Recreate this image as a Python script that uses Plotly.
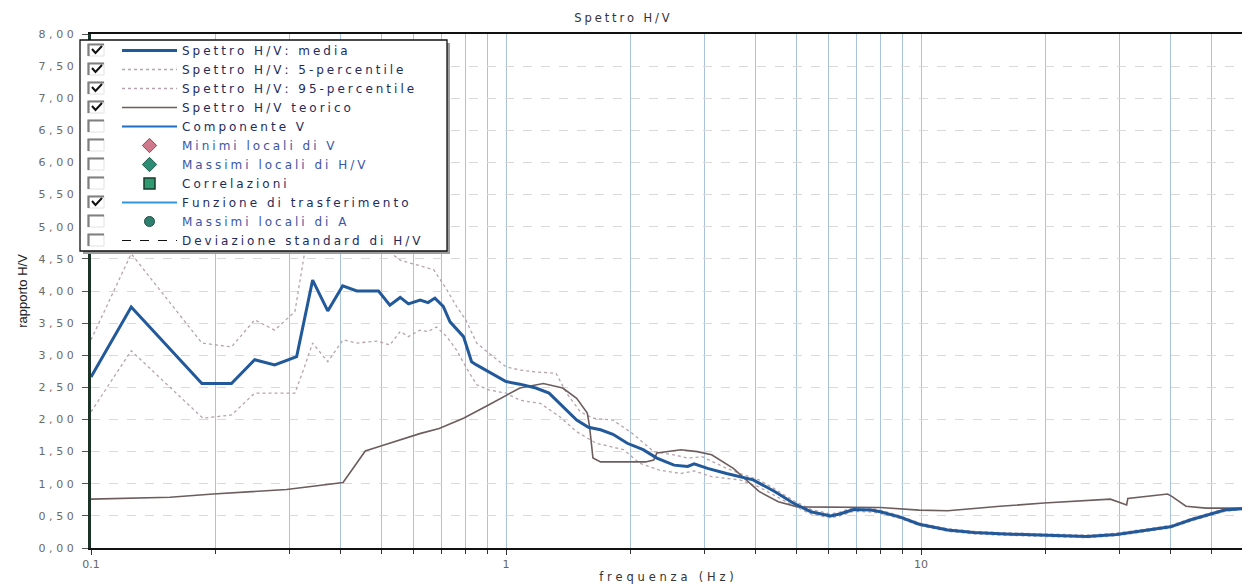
import plotly.graph_objects as go

# ---- H/V spectral ratio samples (frequency in Hz, ratio H/V) ----
freq_media = [0.1, 0.125, 0.185, 0.218, 0.248, 0.277, 0.313, 0.342, 0.372, 0.404, 0.437, 0.493,
              0.525, 0.556, 0.582, 0.621, 0.649, 0.674, 0.706, 0.733, 0.79, 0.826, 0.849, 0.913,
              1.0, 1.08, 1.18, 1.27, 1.37, 1.48, 1.58, 1.69, 1.81, 1.96, 2.14, 2.31, 2.54, 2.74,
              2.84, 3.06, 3.40, 3.66, 3.94, 4.44, 4.92, 5.43, 6.05, 6.37, 6.88, 7.58, 7.98, 8.91,
              9.9, 11.6, 13.4, 15.5, 19.8, 25.1, 29.6, 39.9, 44.7, 53.9, 59.4]
hv_media = [2.66, 3.75, 2.56, 2.56, 2.93, 2.85, 2.98, 4.17, 3.69, 4.08, 4.00, 4.00,
            3.78, 3.90, 3.80, 3.86, 3.82, 3.89, 3.76, 3.52, 3.29, 2.90, 2.85, 2.74,
            2.59, 2.55, 2.49, 2.41, 2.20, 1.99, 1.88, 1.84, 1.77, 1.63, 1.53, 1.40, 1.29, 1.27,
            1.31, 1.24, 1.16, 1.11, 1.06, 0.88, 0.70, 0.565, 0.50, 0.53, 0.60, 0.59, 0.565, 0.48,
            0.37, 0.28, 0.24, 0.22, 0.20, 0.18, 0.21, 0.33, 0.44, 0.59, 0.61]

freq_p5 = [0.1, 0.125, 0.186, 0.218, 0.248, 0.31, 0.325, 0.342, 0.372, 0.405, 0.437, 0.49, 0.525,
           0.556, 0.582, 0.62, 0.649, 0.68, 0.72, 0.76, 0.80, 0.85, 0.91, 1.0, 1.08, 1.21, 1.35,
           1.48, 1.65, 1.92, 2.1, 2.35, 2.64, 2.84, 3.13, 3.66, 4.07, 4.44, 4.92, 5.43, 6.05, 6.37,
           6.88, 7.58, 7.98, 8.91, 9.9, 11.6, 13.4, 15.5, 19.8, 25.1, 29.6, 39.9, 44.7, 53.9, 59.4]
hv_p5 = [2.12, 3.07, 2.02, 2.07, 2.41, 2.41, 2.77, 3.19, 2.90, 3.24, 3.19, 3.22, 3.16,
         3.37, 3.29, 3.39, 3.37, 3.44, 3.29, 3.08, 2.82, 2.54, 2.46, 2.41, 2.30, 2.25, 2.04,
         1.81, 1.63, 1.53, 1.32, 1.21, 1.16, 1.20, 1.11, 1.06, 0.95, 0.82, 0.66, 0.53, 0.47, 0.50,
         0.57, 0.56, 0.54, 0.46, 0.35, 0.26, 0.22, 0.20, 0.18, 0.16, 0.19, 0.31, 0.42, 0.57, 0.60]

freq_p95 = [0.1, 0.125, 0.185, 0.218, 0.248, 0.277, 0.31, 0.328, 0.342, 0.372, 0.404, 0.437, 0.47,
            0.515, 0.556, 0.61, 0.67, 0.72, 0.76, 0.80, 0.85, 0.91, 1.0, 1.08, 1.18, 1.32, 1.40,
            1.51, 1.62, 1.81, 2.01, 2.27, 2.54, 2.74, 2.97, 3.40, 3.66, 4.07, 4.44, 4.92, 5.43,
            6.05, 6.37, 6.88, 7.58, 7.98, 8.91, 9.9, 11.6, 13.4, 15.5, 19.8, 25.1, 29.6, 39.9,
            44.7, 53.9, 59.4]
hv_p95 = [3.24, 4.58, 3.19, 3.13, 3.55, 3.39, 3.68, 4.64, 5.6, 5.0, 5.5, 5.2, 5.0,
          4.64, 4.48, 4.40, 4.33, 4.02, 3.76, 3.55, 3.19, 3.03, 2.82, 2.77, 2.74, 2.72, 2.41,
          2.12, 2.02, 1.99, 1.79, 1.50, 1.45, 1.40, 1.42, 1.24, 1.16, 1.06, 0.92, 0.74, 0.60,
          0.53, 0.56, 0.63, 0.62, 0.59, 0.50, 0.39, 0.30, 0.26, 0.24, 0.22, 0.20, 0.23, 0.35,
          0.46, 0.61, 0.62]

freq_teorico = [0.1, 0.155, 0.197, 0.296, 0.405, 0.458, 0.506, 0.62, 0.69, 0.79, 0.91, 1.08,
                1.23, 1.37, 1.48, 1.57, 1.59, 1.62, 1.69, 2.17, 2.27, 2.31, 2.64, 2.89, 3.13,
                3.53, 4.07, 4.53, 5.04, 6.37, 7.98, 9.9, 11.6, 15.5, 19.8, 28.6, 31.3, 31.5,
                39.3, 40.3, 43.5, 48.6, 59.4]
hv_teorico = [0.76, 0.79, 0.84, 0.91, 1.02, 1.51, 1.60, 1.78, 1.86, 2.02, 2.23, 2.49,
              2.56, 2.49, 2.33, 2.10, 1.89, 1.40, 1.34, 1.34, 1.37, 1.48, 1.53, 1.50, 1.45,
              1.24, 0.88, 0.72, 0.64, 0.64, 0.63, 0.59, 0.58, 0.65, 0.70, 0.76, 0.67, 0.77,
              0.84, 0.80, 0.65, 0.62, 0.62]

# ---- legend entries and their check state ----
legend_names = ["Spettro H/V: media", "Spettro H/V: 5-percentile", "Spettro H/V: 95-percentile",
                "Spettro H/V teorico", "Componente V", "Minimi locali di V",
                "Massimi locali di H/V", "Correlazioni", "Funzione di trasferimento",
                "Massimi locali di A", "Deviazione standard di H/V"]
legend_checked = [True, True, True, True, False, False, False, False, True, False, False]

# ---- axis ticks ----
x_tick_vals = [0.1, 1, 10]
x_tick_text = ["0.1", "1", "10"]
x_minor_vals = [0.2, 0.3, 0.4, 0.5, 0.6, 0.7, 0.8, 0.9, 2, 3, 4, 5, 6, 7, 8, 9, 20, 30, 40, 50]
y_tick_text = ["0,00", "0,50", "1,00", "1,50", "2,00", "2,50", "3,00", "3,50", "4,00",
               "4,50", "5,00", "5,50", "6,00", "6,50", "7,00", "7,50", "8,00"]
y_tick_vals = [float(t.replace(",", ".")) for t in y_tick_text]

FONT = "DejaVu Sans"

# plot box in pixels (used for the legend panel drawn in paper space)
W, H = 1242, 584
PL, PT, PW, PH = 91, 34, 1151, 514


def px2x(px):
    return (px - PL) / PW


def py2y(py):
    return (PT + PH - py) / PH


def spaced(text, gap="\u2009"):
    return gap.join(text)


LEG_GAP = "\u2005"
C_MEDIA = "#22599a"
C_PCT = "#b7a3ad"
C_TEO = "#6e5d5d"
LEG_TXT = "#1e2b5c"
LEG_BLUE = "#3a56a6"


def leg_name(i, color=None):
    txt = spaced(legend_names[i], LEG_GAP)
    if color:
        return f"<span style='color:{color}'>{txt}</span>"
    return txt


fig = go.Figure()

fig.add_trace(go.Scatter(x=freq_p5, y=hv_p5, mode="lines", name=leg_name(1),
                         line=dict(color=C_PCT, width=1.3, dash="dot"), legendrank=2))
fig.add_trace(go.Scatter(x=freq_p95, y=hv_p95, mode="lines", name=leg_name(2),
                         line=dict(color=C_PCT, width=1.3, dash="dot"), legendrank=3))
fig.add_trace(go.Scatter(x=freq_teorico, y=hv_teorico, mode="lines", name=leg_name(3),
                         line=dict(color=C_TEO, width=1.6), legendrank=4))
fig.add_trace(go.Scatter(x=freq_media, y=hv_media, mode="lines", name=leg_name(0),
                         line=dict(color=C_MEDIA, width=3), legendrank=1))

# series listed in the legend that carry no samples here
fig.add_trace(go.Scatter(x=[None], y=[None], mode="lines", name=leg_name(4),
                         line=dict(color="#1f6fc0", width=2), legendrank=5))
fig.add_trace(go.Scatter(x=[None], y=[None], mode="markers", name=leg_name(5, LEG_BLUE),
                         marker=dict(symbol="diamond", size=11, color="#cf7a8c",
                                     line=dict(color="#8a4a5a", width=1)), legendrank=6))
fig.add_trace(go.Scatter(x=[None], y=[None], mode="markers", name=leg_name(6, LEG_BLUE),
                         marker=dict(symbol="diamond", size=11, color="#2c8c74",
                                     line=dict(color="#1d5a4a", width=1)), legendrank=7))
fig.add_trace(go.Scatter(x=[None], y=[None], mode="markers", name=leg_name(7),
                         marker=dict(symbol="square", size=11, color="#2f9a70",
                                     line=dict(color="#173a2c", width=1.5)), legendrank=8))
fig.add_trace(go.Scatter(x=[None], y=[None], mode="lines", name=leg_name(8),
                         line=dict(color="#2f95e0", width=2), legendrank=9))
fig.add_trace(go.Scatter(x=[None], y=[None], mode="markers", name=leg_name(9, LEG_BLUE),
                         marker=dict(symbol="circle", size=10, color="#2e7f6e",
                                     line=dict(color="#1d4f44", width=1)), legendrank=10))
fig.add_trace(go.Scatter(x=[None], y=[None], mode="lines", name=leg_name(10),
                         line=dict(color="#111111", width=1.2, dash="dash"), legendrank=11))

# legend panel, shadow and check boxes
ROW0, PITCH = 50.0, 19.0
box_l, box_r, box_t = 80, 447, 40
box_b = ROW0 + PITCH * (len(legend_names) - 1) + 11
shapes = [
    dict(type="rect", xref="paper", yref="paper", layer="above",
         x0=px2x(box_l + 3), x1=px2x(box_r + 3), y0=py2y(box_b + 3), y1=py2y(box_t + 3),
         fillcolor="#9c9c9c", line=dict(width=0)),
    dict(type="rect", xref="paper", yref="paper", layer="above",
         x0=px2x(box_l), x1=px2x(box_r), y0=py2y(box_b), y1=py2y(box_t),
         fillcolor="white", line=dict(color="#111111", width=1.3)),
]
for i, checked in enumerate(legend_checked):
    cy = ROW0 + PITCH * i
    shapes.append(dict(type="rect", xref="paper", yref="paper", layer="above",
                       x0=px2x(88), x1=px2x(104), y0=py2y(cy + 6), y1=py2y(cy - 6),
                       fillcolor="white", line=dict(color="#e2e2e2", width=1)))
    shapes.append(dict(type="path", xref="paper", yref="paper", layer="above",
                       path=(f"M {px2x(88.5)},{py2y(cy + 6)} L {px2x(88.5)},{py2y(cy - 5.5)} "
                             f"L {px2x(104)},{py2y(cy - 5.5)}"),
                       line=dict(color="#7f7f7f", width=2.2)))
    if checked:
        shapes.append(dict(type="path", xref="paper", yref="paper", layer="above",
                           path=(f"M {px2x(92)},{py2y(cy - 1)} L {px2x(95.5)},{py2y(cy + 3)} "
                                 f"L {px2x(102)},{py2y(cy - 4)}"),
                           line=dict(color="#111111", width=2)))

fig.update_layout(
    width=W, height=H,
    margin=dict(l=PL, r=W - PL - PW, t=PT, b=H - PT - PH),
    paper_bgcolor="white", plot_bgcolor="white",
    font=dict(family=FONT, color="#555555", size=11),
    title=dict(text=spaced("Spettro H/V", "\u2005"), x=622 / W,
               xanchor="center", y=1 - 18 / H, yanchor="middle",
               font=dict(family=FONT, size=11.5, color="#333333")),
    showlegend=True,
    legend=dict(x=px2x(117), y=py2y(36), xanchor="left", yanchor="top",
                bgcolor="rgba(0,0,0,0)", borderwidth=0, itemwidth=55,
                font=dict(family=FONT, size=12, color=LEG_TXT),
                traceorder="normal", itemclick=False),
    shapes=shapes,
)

fig.update_xaxes(
    type="log", range=[-1, 1.7735],
    tickmode="array", tickvals=x_tick_vals, ticktext=x_tick_text,
    ticks="outside", ticklen=5, tickcolor="#333333",
    tickfont=dict(family=FONT, size=11, color="#666666"),
    showgrid=True, gridcolor="#a9c3dc", gridwidth=1.2,
    minor=dict(tickmode="array", tickvals=x_minor_vals, ticks="outside", ticklen=4,
               tickcolor="#333333", showgrid=True, gridcolor="#a9c3dc", gridwidth=1.2),
    showline=True, linecolor="#111111", linewidth=2, mirror=True,
    zeroline=False,
    title=dict(text=spaced("frequenza (Hz)", "\u2004"), standoff=4,
               font=dict(family=FONT, size=11.5, color="#333333")),
)

fig.update_yaxes(
    range=[0, 8], tickmode="array", tickvals=y_tick_vals,
    ticktext=[spaced(t, "\u2004") for t in y_tick_text],
    ticks="outside", ticklen=6, tickcolor="#555555", ticklabelstandoff=6,
    tickfont=dict(family=FONT, size=11, color="#6a6a6a"),
    showgrid=True, gridcolor="#d9d9d9", gridwidth=1, griddash="dash",
    showline=True, linecolor="#1b3326", linewidth=3,
    zeroline=False,
    title=dict(text="rapporto H/V", standoff=8,
               font=dict(family="Liberation Sans Narrow, Liberation Sans, Arial", size=13,
                         color="#222222")),
)

fig.write_html("out.html")
